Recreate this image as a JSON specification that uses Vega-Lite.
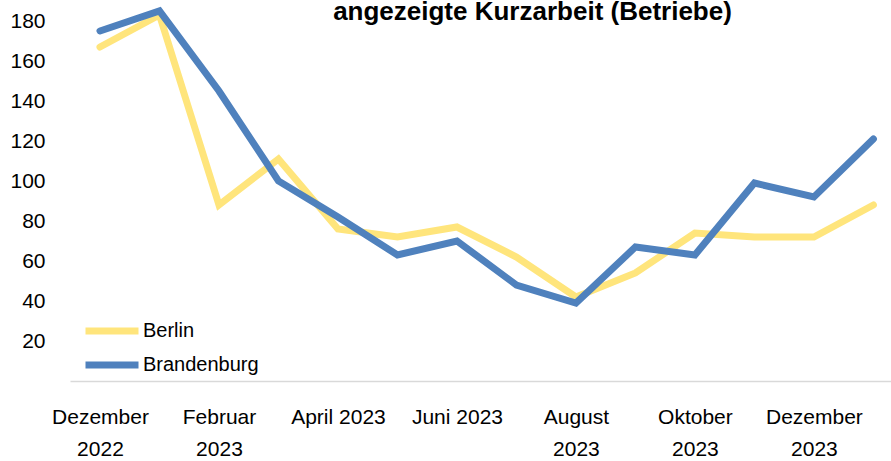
{
  "$schema": "https://vega.github.io/schema/vega-lite/v6.json",
  "width": 821,
  "height": 380,
  "autosize": {"type": "none"},
  "padding": {"left": 70, "top": 1, "right": 0, "bottom": 80},
  "background": "white",
  "title": {
    "text": "angezeigte Kurzarbeit (Betriebe)",
    "frame": "group",
    "anchor": "middle",
    "orient": "top",
    "offset": 0,
    "baseline": "alphabetic",
    "dx": 52,
    "dy": 49,
    "font": "Liberation Sans",
    "fontSize": 26,
    "fontWeight": "bold",
    "color": "#000000"
  },
  "data": {
    "values": [
      {"monat": "Dezember 2022", "region": "Berlin", "wert": 167},
      {"monat": "Januar 2023", "region": "Berlin", "wert": 183},
      {"monat": "Februar 2023", "region": "Berlin", "wert": 88},
      {"monat": "März 2023", "region": "Berlin", "wert": 111},
      {"monat": "April 2023", "region": "Berlin", "wert": 76},
      {"monat": "Mai 2023", "region": "Berlin", "wert": 72},
      {"monat": "Juni 2023", "region": "Berlin", "wert": 77},
      {"monat": "Juli 2023", "region": "Berlin", "wert": 62},
      {"monat": "August 2023", "region": "Berlin", "wert": 42},
      {"monat": "September 2023", "region": "Berlin", "wert": 54},
      {"monat": "Oktober 2023", "region": "Berlin", "wert": 74},
      {"monat": "November 2023", "region": "Berlin", "wert": 72},
      {"monat": "Dezember 2023", "region": "Berlin", "wert": 72},
      {"monat": "Januar 2024", "region": "Berlin", "wert": 88},
      {"monat": "Dezember 2022", "region": "Brandenburg", "wert": 175},
      {"monat": "Januar 2023", "region": "Brandenburg", "wert": 185},
      {"monat": "Februar 2023", "region": "Brandenburg", "wert": 145},
      {"monat": "März 2023", "region": "Brandenburg", "wert": 100},
      {"monat": "April 2023", "region": "Brandenburg", "wert": 82},
      {"monat": "Mai 2023", "region": "Brandenburg", "wert": 63},
      {"monat": "Juni 2023", "region": "Brandenburg", "wert": 70},
      {"monat": "Juli 2023", "region": "Brandenburg", "wert": 48},
      {"monat": "August 2023", "region": "Brandenburg", "wert": 39},
      {"monat": "September 2023", "region": "Brandenburg", "wert": 67},
      {"monat": "Oktober 2023", "region": "Brandenburg", "wert": 63},
      {"monat": "November 2023", "region": "Brandenburg", "wert": 99},
      {"monat": "Dezember 2023", "region": "Brandenburg", "wert": 92},
      {"monat": "Januar 2024", "region": "Brandenburg", "wert": 121}
    ]
  },
  "mark": {"type": "line", "strokeWidth": 7, "strokeCap": "round", "strokeJoin": "miter"},
  "encoding": {
    "x": {
      "field": "monat",
      "type": "ordinal",
      "sort": null,
      "scale": {"type": "point", "padding": 0.4, "align": 0.63},
      "axis": {
        "title": null,
        "labelAngle": 0,
        "ticks": false,
        "grid": false,
        "domainColor": "#D9D9D9",
        "domainWidth": 1.5,
        "labelFont": "Liberation Sans",
        "labelFontSize": 21,
        "labelColor": "#000000",
        "labelPadding": 25,
        "labelLineHeight": 32,
        "labelOverlap": false,
        "labelBaseline": "top",
        "labelExpr": "indexof(['Dezember 2022','Februar 2023','August 2023','Oktober 2023','Dezember 2023'], datum.value) >= 0 ? split(datum.value, ' ') : (indexof(['April 2023','Juni 2023'], datum.value) >= 0 ? datum.value : '')"
      }
    },
    "y": {
      "field": "wert",
      "type": "quantitative",
      "scale": {"domain": [0, 190], "nice": false},
      "axis": {
        "title": null,
        "values": [20, 40, 60, 80, 100, 120, 140, 160, 180],
        "domain": false,
        "ticks": false,
        "grid": false,
        "labelFont": "Liberation Sans",
        "labelFontSize": 21,
        "labelColor": "#000000",
        "labelPadding": 25
      }
    },
    "color": {
      "field": "region",
      "type": "nominal",
      "scale": {"domain": ["Berlin", "Brandenburg"], "range": ["#FFE57C", "#4F81BD"]},
      "legend": {
        "title": null,
        "orient": "none",
        "legendX": 12,
        "legendY": 320,
        "padding": 0,
        "symbolType": "stroke",
        "symbolSize": 2809,
        "symbolStrokeWidth": 7,
        "labelFont": "Liberation Sans",
        "labelFontSize": 20,
        "labelColor": "#000000",
        "labelOffset": 1,
        "clipHeight": 20,
        "rowPadding": 14
      }
    }
  },
  "config": {"view": {"stroke": null}}
}
